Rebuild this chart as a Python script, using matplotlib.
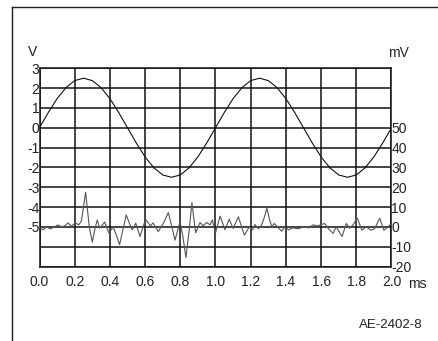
import matplotlib
matplotlib.use("Agg")
import matplotlib.pyplot as plt
from matplotlib.lines import Line2D

plt.rcParams['font.family'] = ['Liberation Sans', 'DejaVu Sans']

# Supply voltage trace (V), sampled every 0.05 ms
t_volt = [i * 0.05 for i in range(41)]
volt = [0.00, 0.77, 1.47, 2.02, 2.38, 2.50, 2.38, 2.02, 1.47, 0.77,
        0.00, -0.77, -1.47, -2.02, -2.38, -2.50, -2.38, -2.02, -1.47, -0.77,
        0.00, 0.77, 1.47, 2.02, 2.38, 2.50, 2.38, 2.02, 1.47, 0.77,
        0.00, -0.77, -1.47, -2.02, -2.38, -2.50, -2.38, -2.02, -1.47, -0.77,
        0.00]

# Ripple / noise trace (mV)
t_noise = [0.000, 0.020, 0.040, 0.060, 0.086, 0.105, 0.124, 0.143, 0.162, 0.180,
           0.204, 0.223, 0.238, 0.250, 0.262, 0.272, 0.283, 0.300, 0.315, 0.328,
           0.342, 0.370, 0.395, 0.418, 0.438, 0.455, 0.475, 0.493, 0.510, 0.527,
           0.547, 0.571, 0.588, 0.603, 0.630, 0.645, 0.675, 0.705, 0.732, 0.752,
           0.770, 0.798, 0.815, 0.832, 0.850, 0.866, 0.887, 0.912, 0.930, 0.950,
           0.969, 0.982, 1.000, 1.026, 1.054, 1.078, 1.100, 1.130, 1.164, 1.192,
           1.211, 1.224, 1.243, 1.262, 1.278, 1.292, 1.306, 1.320, 1.334, 1.357,
           1.376, 1.395, 1.414, 1.440, 1.470, 1.500, 1.530, 1.554, 1.580, 1.620,
           1.640, 1.668, 1.686, 1.719, 1.743, 1.762, 1.781, 1.806, 1.832, 1.857,
           1.882, 1.904, 1.933, 1.957, 1.980, 2.000]
noise_mv = [-0.3, -1.5, 0.0, -1.0, 0.0, 1.0, 0.0, 0.5, 2.0, 0.3,
            2.0, 1.0, 3.0, 10.0, 17.5, 9.0, 0.0, -7.7, -1.0, 3.5,
            -0.7, 2.4, -3.2, 0.0, -4.5, -9.0, -1.0, 6.0, 2.0, -1.5,
            1.8, -4.9, 0.0, 3.8, 0.5, 2.0, -2.4, 2.0, 7.2, 0.0,
            -6.7, 2.5, -5.0, -15.5, -2.0, 12.3, -3.0, 2.2, 0.5, 2.2,
            1.0, 3.5, -3.0, 5.4, -1.5, 3.9, -0.8, 5.1, -4.2, 0.0,
            -1.5, 1.2, -1.0, 1.0, 5.0, 9.4, 4.0, 0.0, 1.7, -0.5,
            -2.2, 0.0, -1.5, -0.5, -1.0, 0.0, -0.5, 1.0, 0.5, 1.7,
            -0.8, -3.3, 0.0, -4.9, 1.7, -0.7, 1.0, 4.4, -1.7, 0.0,
            -1.7, -1.0, 4.4, -1.7, 0.0, 1.7]

x_ticks = [0.0, 0.2, 0.4, 0.6, 0.8, 1.0, 1.2, 1.4, 1.6, 1.8, 2.0]
x_labels = ["0.0", "0.2", "0.4", "0.6", "0.8", "1.0", "1.2", "1.4", "1.6", "1.8", "2.0"]
v_ticks = [3, 2, 1, 0, -1, -2, -3, -4, -5]
mv_ticks = [50, 40, 30, 20, 10, 0, -10, -20]

W, H = 438, 341
fig = plt.figure(figsize=(W / 100, H / 100), dpi=100)

# page frame: left and top rules
fig.add_artist(Line2D([12 / W, 12 / W], [0, 1 - 7 / H], color="#222222", lw=1.0,
                      transform=fig.transFigure))
fig.add_artist(Line2D([12 / W, 1], [1 - 7 / H, 1 - 7 / H], color="#222222", lw=1.0,
                      transform=fig.transFigure))

left, right, top, bottom = 39.5, 391.5, 68.3, 266.5
ax = fig.add_axes([left / W, 1 - bottom / H, (right - left) / W, (bottom - top) / H])
ax.set_xlim(0, 2.0)
ax.set_ylim(-7, 3)

# grid
for xv in x_ticks:
    ax.axvline(xv, color="#111111", lw=1.1, zorder=1)
for yv in range(-7, 4):
    ax.axhline(yv, color="#111111", lw=1.1, zorder=1)
for s in ax.spines.values():
    s.set_color("#111111")
    s.set_linewidth(1.1)

ax.plot(t_volt, volt, color="#111111", lw=0.8, zorder=3)

ax.set_xticks(x_ticks)
ax.set_xticklabels(x_labels)
ax.set_yticks(v_ticks)
ax.set_yticklabels([str(v) for v in v_ticks])
ax.tick_params(axis="both", length=0, labelsize=10, colors="#222222")
ax.tick_params(axis="y", pad=0)
ax.tick_params(axis="x", pad=6)

ax2 = ax.twinx()
ax2.set_ylim(-20, 80)
ax2.set_yticks(mv_ticks)
ax2.set_yticklabels([str(v) for v in mv_ticks])
ax2.tick_params(axis="y", length=0, pad=0, labelsize=10, colors="#222222")
for s in ax2.spines.values():
    s.set_visible(False)
ax2.plot(t_noise, noise_mv, color="#555555", lw=0.8, zorder=3)

fig.text(33 / W, 1 - 52 / H, "V", ha="center", va="center", fontsize=10, color="#222222")
fig.text(398 / W, 1 - 53 / H, "mV", ha="center", va="center", fontsize=10, color="#222222")
fig.text(417 / W, 1 - 284 / H, "ms", ha="center", va="center", fontsize=10, color="#222222")
fig.text(391 / W, 1 - 325 / H, "AE-2402-8", ha="center", va="center", fontsize=9.5,
         color="#222222")

fig.savefig("out.png", dpi=100)
